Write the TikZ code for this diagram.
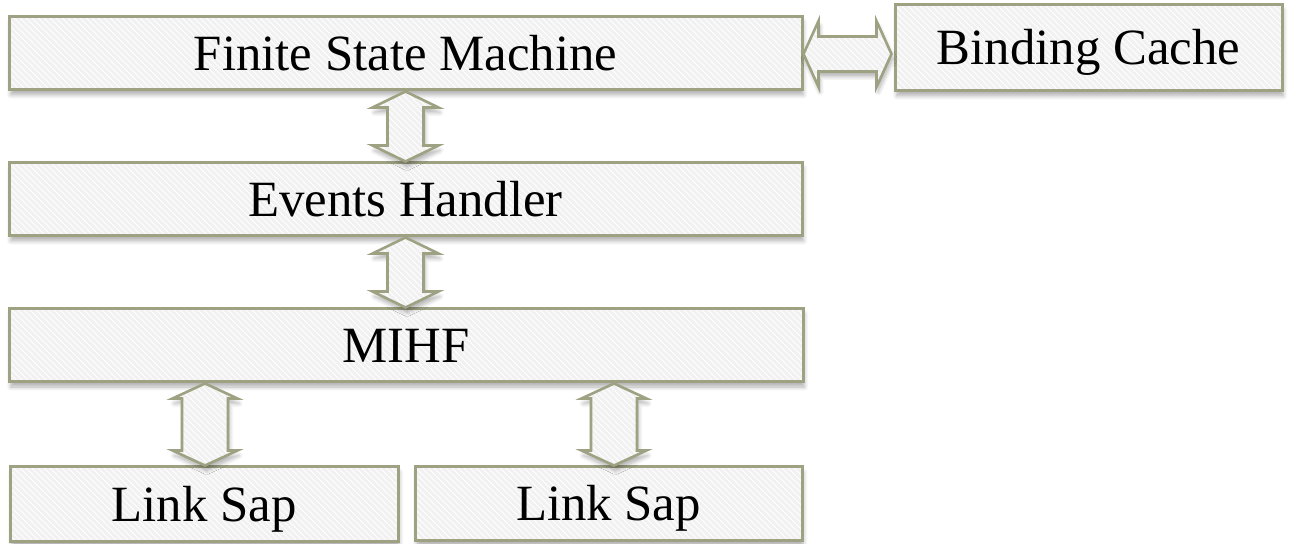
\documentclass[tikz,border=0pt]{standalone}
\usepackage{fontspec}
\setmainfont{Liberation Serif}
\usetikzlibrary{calc,shadows.blur,patterns}
\definecolor{bordc}{HTML}{9EA282}
\definecolor{fillc}{HTML}{F1F1F1}
\tikzset{
  shadowed/.style={blur shadow={shadow xshift=0.8pt, shadow yshift=-2.5pt, shadow blur steps=6, shadow blur radius=2pt, shadow opacity=30}},
  filled/.style={preaction={fill=fillc}, preaction={pattern=north west lines, pattern color=white}},
  boxstyle/.style={shadowed, filled, draw=bordc, line width=1.5pt,
    font=\fontsize{25.4}{30}\selectfont, text height=16.8pt, text depth=0pt, inner sep=0pt},
  arrowstyle/.style={shadowed, filled, draw=bordc, line width=1.3pt, line join=miter}
}
% vertical double block arrow: #1 top point, #2 bottom point, #3 head half width, #4 shaft half width, #5 head length
\newcommand\vbiarrow[5]{%
  \path[arrowstyle] let \p1=#1, \p2=#2 in
    (\x1,\y1) -- (\x1+#3,\y1-#5) -- (\x1+#4,\y1-#5) -- (\x1+#4,\y2+#5) -- (\x1+#3,\y2+#5)
    -- (\x1,\y2) -- (\x1-#3,\y2+#5) -- (\x1-#4,\y2+#5) -- (\x1-#4,\y1-#5) -- (\x1-#3,\y1-#5) -- cycle;}
% horizontal double block arrow: #1 left point, #2 right point
\newcommand\hbiarrow[5]{%
  \path[arrowstyle] let \p1=#1, \p2=#2 in
    (\x1,\y1) -- (\x1+#5,\y1+#3) -- (\x1+#5,\y1+#4) -- (\x2-#5,\y1+#4) -- (\x2-#5,\y1+#3)
    -- (\x2,\y1) -- (\x2-#5,\y1-#3) -- (\x2-#5,\y1-#4) -- (\x1+#5,\y1-#4) -- (\x1+#5,\y1-#3) -- cycle;}
\begin{document}
\begin{tikzpicture}[x=0.5pt,y=-0.5pt]
\useasboundingbox (0,0) rectangle (1290,544);
\node[boxstyle, minimum width=396.5pt, minimum height=36.5pt] (fsm) at (405.5,53.5) {Finite State Machine};
\node[boxstyle, minimum width=193.5pt, minimum height=43pt] (bc) at (1088.5,48) {Binding Cache};
\node[boxstyle, minimum width=396.5pt, minimum height=36.5pt] (eh) at (405.5,199.5) {Events Handler};
\node[boxstyle, minimum width=397pt, minimum height=36.5pt] (mihf) at (406,345.5) {MIHF};
\node[boxstyle, minimum width=194pt, minimum height=37.5pt] (ls1) at (204,504.5) {Link Sap};
\node[boxstyle, minimum width=193.5pt, minimum height=37pt] (ls2) at (608.5,504) {Link Sap};

\vbiarrow{(fsm.south)}{(eh.north)}{16.5pt}{9pt}{8pt}
\vbiarrow{(eh.south)}{(mihf.north)}{16.5pt}{9pt}{8pt}
\vbiarrow{($(mihf.south -| ls1.north)+(0.5pt,0)$)}{($(ls1.north)+(0.5pt,0)$)}{16.25pt}{11.5pt}{7.5pt}
\vbiarrow{($(mihf.south -| ls2.north)+(2.75pt,0)$)}{($(ls2.north)+(2.75pt,0)$)}{16.25pt}{11.5pt}{7.5pt}
\hbiarrow{($(fsm.east)+(0,-0.25pt)$)}{($(bc.west |- fsm.east)+(-1pt,0)$)}{16.5pt}{8.75pt}{7.5pt}
\end{tikzpicture}
\end{document}
